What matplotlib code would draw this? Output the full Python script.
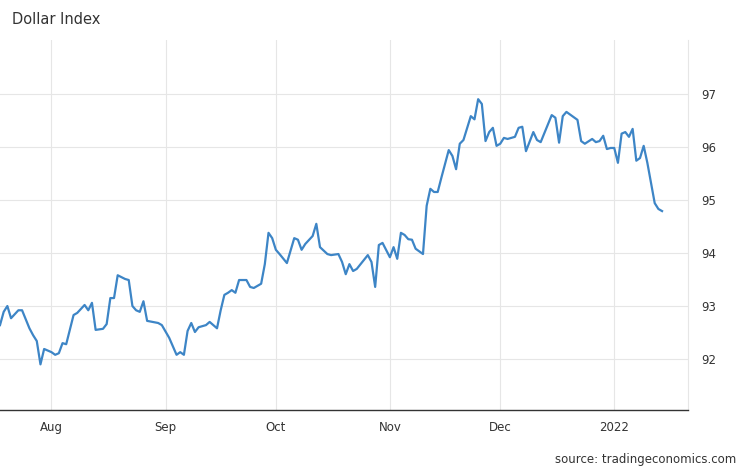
import matplotlib
matplotlib.use("Agg")
import matplotlib.pyplot as plt
import pandas as pd

dates = ["2021-07-18","2021-07-19","2021-07-20","2021-07-21","2021-07-23","2021-07-24","2021-07-26","2021-07-27","2021-07-28","2021-07-29","2021-07-30",
"2021-08-01","2021-08-02","2021-08-03","2021-08-04","2021-08-05","2021-08-07","2021-08-08","2021-08-10","2021-08-11","2021-08-12","2021-08-13","2021-08-15","2021-08-16","2021-08-17","2021-08-18","2021-08-19","2021-08-21","2021-08-22","2021-08-23","2021-08-24","2021-08-25","2021-08-26","2021-08-27","2021-08-30","2021-08-31",
"2021-09-02","2021-09-04","2021-09-05","2021-09-06","2021-09-07","2021-09-08","2021-09-09","2021-09-10","2021-09-12","2021-09-13","2021-09-15","2021-09-16","2021-09-17","2021-09-18","2021-09-19","2021-09-20","2021-09-21","2021-09-23","2021-09-24","2021-09-25","2021-09-27","2021-09-28","2021-09-29","2021-09-30",
"2021-10-01","2021-10-02","2021-10-04","2021-10-06","2021-10-07","2021-10-08","2021-10-09","2021-10-11","2021-10-12","2021-10-13","2021-10-15","2021-10-16","2021-10-18","2021-10-19","2021-10-20","2021-10-21","2021-10-22","2021-10-23","2021-10-26","2021-10-27","2021-10-28","2021-10-29","2021-10-30",
"2021-11-01","2021-11-02","2021-11-03","2021-11-04","2021-11-05","2021-11-06","2021-11-07","2021-11-08","2021-11-10","2021-11-11","2021-11-12","2021-11-13","2021-11-14","2021-11-15","2021-11-17","2021-11-18","2021-11-19","2021-11-20","2021-11-21","2021-11-23","2021-11-24","2021-11-25","2021-11-26","2021-11-27","2021-11-28","2021-11-29","2021-11-30",
"2021-12-01","2021-12-02","2021-12-03","2021-12-05","2021-12-06","2021-12-07","2021-12-08","2021-12-10","2021-12-11","2021-12-12","2021-12-15","2021-12-16","2021-12-17","2021-12-18","2021-12-19","2021-12-22","2021-12-23","2021-12-24","2021-12-26","2021-12-27","2021-12-28","2021-12-29","2021-12-30","2021-12-31",
"2022-01-01","2022-01-02","2022-01-03","2022-01-04","2022-01-05","2022-01-06","2022-01-07","2022-01-08","2022-01-09","2022-01-10","2022-01-12","2022-01-13","2022-01-14"]
values = [92.64,92.89,93.0,92.77,92.92,92.92,92.58,92.45,92.34,91.9,92.19,
92.13,92.08,92.11,92.3,92.28,92.83,92.87,93.02,92.92,93.06,92.55,92.57,92.66,93.15,93.15,93.58,93.51,93.49,93.0,92.92,92.89,93.09,92.72,92.68,92.64,
92.4,92.08,92.13,92.08,92.53,92.68,92.51,92.6,92.64,92.7,92.58,92.92,93.21,93.25,93.3,93.25,93.49,93.49,93.36,93.34,93.42,93.79,94.38,94.28,
94.06,93.98,93.81,94.28,94.25,94.06,94.17,94.32,94.55,94.11,93.98,93.96,93.98,93.83,93.6,93.79,93.66,93.7,93.96,93.83,93.36,94.15,94.19,
93.92,94.11,93.89,94.38,94.34,94.26,94.25,94.08,93.98,94.89,95.21,95.15,95.15,95.42,95.94,95.83,95.58,96.06,96.13,96.58,96.52,96.9,96.81,96.11,96.28,96.36,96.02,
96.06,96.17,96.15,96.19,96.36,96.38,95.92,96.28,96.13,96.09,96.6,96.55,96.08,96.58,96.66,96.51,96.11,96.06,96.15,96.09,96.11,96.21,95.96,95.98,
95.98,95.7,96.25,96.28,96.19,96.34,95.74,95.79,96.02,95.7,94.94,94.83,94.79]
yticks = [92, 93, 94, 95, 96, 97]
month_ticks = ["2021-08-01","2021-09-01","2021-10-01","2021-11-01","2021-12-01","2022-01-01"]
month_labels = ["Aug","Sep","Oct","Nov","Dec","2022"]

fig = plt.figure(figsize=(7.46, 4.68), dpi=100)
ax = fig.add_axes([0.0, 0.124, 0.922, 0.791])
x = pd.to_datetime(dates)
ax.plot(x, values, color="#3d85c6", lw=1.6)
ax.set_xlim(pd.Timestamp("2021-07-18"), pd.Timestamp("2022-01-21"))
ax.set_ylim(91.04, 98.02)
ax.yaxis.tick_right()
ax.set_yticks(yticks)
ax.set_yticklabels([str(v) for v in yticks])
ax.set_xticks(pd.to_datetime(month_ticks))
ax.set_xticklabels(month_labels)
ax.tick_params(axis="both", length=0, labelsize=8.5, colors="#333333")
ax.tick_params(axis="y", pad=10)
ax.tick_params(axis="x", pad=8)
ax.grid(True, color="#e6e6e6", lw=0.8)
for s in ["top", "left"]:
    ax.spines[s].set_visible(False)
ax.spines["right"].set_color("#e6e6e6")
ax.spines["bottom"].set_color("#333333")
ax.spines["bottom"].set_linewidth(1.0)
fig.text(12/746, 1-20/468, "Dollar Index", fontsize=10.5, color="#333333", va="center")
fig.text(736/746, 1-459/468, "source: tradingeconomics.com", fontsize=8.5, color="#333333", ha="right", va="center")
fig.savefig("out.png", dpi=100)
